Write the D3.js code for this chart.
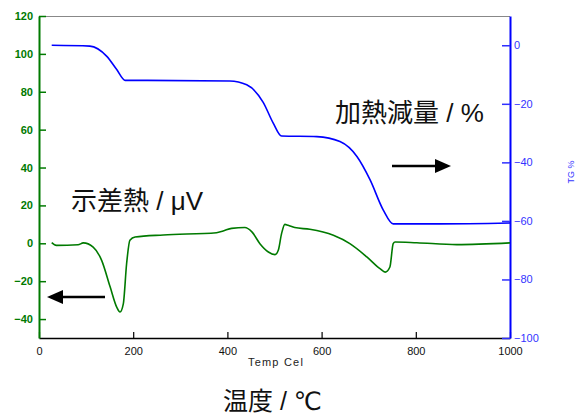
<!DOCTYPE html>
<html>
<head>
<meta charset="utf-8">
<script src="https://cdn.jsdelivr.net/npm/d3@7"></script>
<style>
  body { margin: 0; background: #fff; }
  svg { display: block; }
</style>
</head>
<body>
<svg id="chart" width="578" height="414"></svg>
<script>
// TG curve (weight change %, right axis)
const tgTemp = [27, 108, 144, 165, 183, 230, 405, 441, 476, 497, 515, 590, 639, 675, 703, 731, 752, 850, 1000];
const tgValue = [0, -0.3, -3.8, -8.3, -12, -12, -12.2, -13.5, -19.5, -26.5, -31, -31.2, -32.9, -38, -46, -56.3, -61, -61, -60.7];

// DTA curve (µV, left axis)
const dtaTemp = [27, 37, 83, 94, 115, 133, 151, 165, 172, 179, 186, 193, 204, 264, 377, 391, 409, 437, 452, 469, 487, 501, 508, 515, 522, 529, 543, 575, 625, 660, 696, 724, 735, 745, 752, 756, 802, 887, 1000];
const dtaValue = [0.4, -1.1, -0.8, 0.2, -2, -9, -23, -33.7, -36.3, -32, -10.8, 1.6, 3.3, 4.4, 5.6, 6.5, 7.9, 8.3, 6, -0.2, -4.6, -6, -3.7, 5.1, 10, 9.5, 8.3, 7.4, 4.2, -0.2, -7.2, -13.4, -15.2, -12.5, -0.2, 0.7, 0.3, -0.7, 0.2];

const xTicks = [0, 200, 400, 600, 800, 1000];
const leftTicks = [-40, -20, 0, 20, 40, 60, 80, 100, 120];
const rightTicks = [-100, -80, -60, -40, -20, 0];

const green = "#007a00";
const blue = "#0000ff";
const latin = "'Liberation Sans', Arial, sans-serif";
const mixed = "'Liberation Sans', 'DejaVu Sans', 'Noto Sans CJK JP', sans-serif";

const svg = d3.select("#chart");
const plotL = 39, plotR = 510, plotT = 16, plotB = 338;

const x = d3.scaleLinear().domain([0, 1000]).range([plotL, plotR]);
const yL = d3.scaleLinear().domain([-50, 120]).range([plotB, plotT]);
const yR = d3.scaleLinear().domain([-100, 10]).range([plotB, plotT]);

const minusFmt = d => d < 0 ? "\u2212" + Math.abs(d) : String(d);

// top border
svg.append("line")
  .attr("x1", plotL).attr("x2", plotR).attr("y1", plotT + 0.5).attr("y2", plotT + 0.5)
  .attr("stroke", "#888").attr("stroke-width", 1);

// x axis
const xAxis = svg.append("g")
  .attr("transform", `translate(0,${plotB})`)
  .call(d3.axisBottom(x).tickValues(xTicks).tickSizeInner(-6).tickSizeOuter(0).tickPadding(9)
    .tickFormat(d => String(d)));
xAxis.select(".domain").attr("stroke", "#000").attr("stroke-width", 1.5);
xAxis.selectAll(".tick line").attr("stroke", "#000").attr("stroke-width", 1.2);
xAxis.selectAll("text").attr("font-family", latin).attr("font-size", 11).attr("fill", "#111");

// left axis
const yAxisL = svg.append("g")
  .attr("transform", `translate(${plotL},0)`)
  .call(d3.axisLeft(yL).tickValues(leftTicks).tickSizeInner(-7).tickSizeOuter(0).tickPadding(6)
    .tickFormat(minusFmt));
yAxisL.select(".domain").attr("stroke", green).attr("stroke-width", 2);
yAxisL.selectAll(".tick line").attr("stroke", green).attr("stroke-width", 1.5);
yAxisL.selectAll("text").attr("font-family", latin).attr("font-size", 11)
  .attr("font-weight", "bold").attr("fill", green);

// right axis
const yAxisR = svg.append("g")
  .attr("transform", `translate(${plotR},0)`)
  .call(d3.axisRight(yR).tickValues(rightTicks).tickSizeInner(-8).tickSizeOuter(0).tickPadding(4)
    .tickFormat(minusFmt));
yAxisR.select(".domain").attr("stroke", blue).attr("stroke-width", 2);
yAxisR.selectAll(".tick line").attr("stroke", "#3030ff").attr("stroke-width", 1.5);
yAxisR.selectAll("text").attr("font-family", latin).attr("font-size", 11)
  .attr("fill", "#3333ff");

// curves
const tgLine = d3.line().x(d => x(d[0])).y(d => yR(d[1])).curve(d3.curveMonotoneX);
const dtaLine = d3.line().x(d => x(d[0])).y(d => yL(d[1])).curve(d3.curveMonotoneX);

svg.append("path")
  .datum(d3.zip(tgTemp, tgValue))
  .attr("d", tgLine).attr("fill", "none").attr("stroke", blue).attr("stroke-width", 1.6);

svg.append("path")
  .datum(d3.zip(dtaTemp, dtaValue))
  .attr("d", dtaLine).attr("fill", "none").attr("stroke", green).attr("stroke-width", 1.6);

// axis titles
svg.append("text").attr("x", 276).attr("y", 366).attr("text-anchor", "middle")
  .attr("font-family", latin).attr("font-size", 11).attr("letter-spacing", 1.2)
  .attr("fill", "#222").text("Temp Cel");

svg.append("text").attr("transform", "translate(574,172) rotate(-90)").attr("text-anchor", "middle")
  .attr("font-family", latin).attr("font-size", 9).attr("fill", "#3333ff").text("TG %");

svg.append("text").attr("x", 223).attr("y", 410)
  .attr("font-family", mixed).attr("font-size", 25).attr("fill", "#111").text("温度 / ℃");

svg.append("text").attr("x", 71).attr("y", 210)
  .attr("font-family", mixed).attr("font-size", 26).attr("fill", "#111").text("示差熱 / μV");

svg.append("text").attr("x", 335).attr("y", 122)
  .attr("font-family", mixed).attr("font-size", 26).attr("fill", "#111").text("加熱減量 / %");

// arrows
function arrow(x1, x2, y) {
  const dir = Math.sign(x2 - x1);
  svg.append("line").attr("x1", x1).attr("x2", x2 - dir * 14).attr("y1", y).attr("y2", y)
    .attr("stroke", "#000").attr("stroke-width", 2.5);
  svg.append("path")
    .attr("d", `M${x2},${y} L${x2 - dir * 16},${y - 7} L${x2 - dir * 16},${y + 7} Z`)
    .attr("fill", "#000");
}
arrow(105, 47, 297);
arrow(392, 451, 166);
</script>
</body>
</html>
